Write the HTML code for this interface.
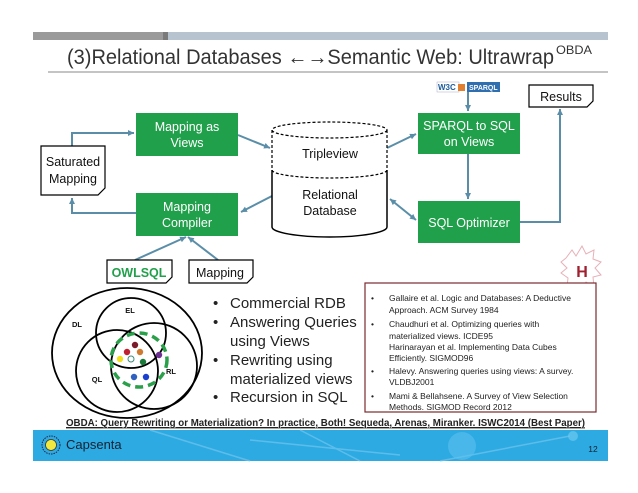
<!DOCTYPE html>
<html><head><meta charset="utf-8"><style>
html,body{margin:0;padding:0;background:#fff;}
svg{display:block;}
text{font-family:"Liberation Sans",sans-serif;}
</style></head><body>
<svg width="638" height="493" viewBox="0 0 638 493" xmlns="http://www.w3.org/2000/svg">
<defs>
<marker id="ah" markerWidth="8" markerHeight="8" refX="6" refY="3" orient="auto" markerUnits="userSpaceOnUse"><path d="M0,0 L6,3 L0,6 z" fill="#5a8ea8"/></marker>
<marker id="ahs" markerWidth="8" markerHeight="8" refX="0" refY="3" orient="auto" markerUnits="userSpaceOnUse"><path d="M6,0 L0,3 L6,6 z" fill="#5a8ea8"/></marker>
</defs>
<!-- top bar -->
<rect x="33" y="32" width="135" height="8" fill="#9a9a9a"/>
<rect x="163" y="32" width="5" height="8" fill="#7a7a7a"/>
<rect x="168" y="32" width="440" height="8" fill="#b8c3d0"/>
<text x="67" y="64" font-size="21" fill="#333" textLength="487" lengthAdjust="spacingAndGlyphs">(3)Relational Databases ←→Semantic Web: Ultrawrap</text>
<text x="556" y="54" font-size="12" fill="#333" textLength="36" lengthAdjust="spacingAndGlyphs">OBDA</text>
<line x1="48" y1="72" x2="608" y2="72" stroke="#888" stroke-width="1"/>

<!-- connectors -->
<g stroke="#5a8ea8" stroke-width="2" fill="none">
<polyline points="72,146 72,133 134,133" marker-end="url(#ah)"/>
<polyline points="136,213 72,213 72,198" marker-end="url(#ah)"/>
<line x1="238" y1="135" x2="270" y2="148" marker-end="url(#ah)"/>
<line x1="272" y1="196" x2="241" y2="212" marker-end="url(#ah)"/>
<line x1="387" y1="148" x2="416" y2="134" marker-end="url(#ah)"/>
<line x1="390" y1="199" x2="416" y2="220" marker-end="url(#ah)" marker-start="url(#ahs)"/>
<line x1="468" y1="92" x2="468" y2="111" marker-end="url(#ah)"/>
<line x1="468" y1="154" x2="468" y2="199" marker-end="url(#ah)"/>
<polyline points="520,222 560,222 560,109" marker-end="url(#ah)"/>
<line x1="135" y1="260" x2="186" y2="237" marker-end="url(#ah)"/>
<line x1="218" y1="260" x2="188" y2="237" marker-end="url(#ah)"/>
</g>

<!-- green boxes -->
<g fill="#21a04b">
<rect x="136" y="113" width="102" height="43"/>
<rect x="136" y="193" width="102" height="43"/>
<rect x="418" y="113" width="102" height="41"/>
<rect x="418" y="201" width="102" height="42"/>
</g>
<g fill="#fff" font-size="12.5" text-anchor="middle">
<text x="187" y="131">Mapping as</text><text x="187" y="147">Views</text>
<text x="187" y="211">Mapping</text><text x="187" y="227">Compiler</text>
<text x="469" y="130">SPARQL to SQL</text><text x="469" y="146">on Views</text>
<text x="469" y="227">SQL Optimizer</text>
</g>

<!-- cylinder -->
<path d="M272,130 L272,227 A57.5,10 0 0 0 387,227 L387,130" fill="#fff" stroke="none"/>
<path d="M272,130 L272,170 M387,130 L387,170" stroke="#000" stroke-width="1.2" stroke-dasharray="3,2" fill="none"/>
<path d="M272,170 L272,227 A57.5,10 0 0 0 387,227 L387,170" stroke="#000" stroke-width="1.5" fill="none"/>
<ellipse cx="329.5" cy="130" rx="57.5" ry="8" fill="#fff" stroke="#000" stroke-width="1.2" stroke-dasharray="3,2"/>
<path d="M272,170 A57.5,8 0 0 0 387,170" stroke="#000" stroke-width="1.2" stroke-dasharray="3,2" fill="none"/>
<g font-size="12.5" text-anchor="middle" fill="#111">
<text x="330" y="158">Tripleview</text>
<text x="330" y="199">Relational</text>
<text x="330" y="215">Database</text>
</g>

<!-- W3C SPARQL logo -->
<rect x="437" y="82" width="22" height="10" fill="#fff" stroke="#aac" stroke-width="0.5"/>
<text x="438" y="90" font-size="8" fill="#1a5a9a" font-weight="bold">W3C</text>
<rect x="458" y="84" width="7" height="7" fill="#e08030"/>
<rect x="467" y="82" width="33" height="10" fill="#2f6fb0"/>
<text x="469" y="90" font-size="7" fill="#fff" font-weight="bold">SPARQL</text>

<!-- documents -->
<g stroke="#000" stroke-width="1.2" fill="#fff">
<path d="M529,85 L593,85 L593,101 L587,107 L529,107 Z"/>
<path d="M41,146 L105,146 L105,188 L98,195 L41,195 Z"/>
<path d="M107,260 L172,260 L172,277 L166,283 L107,283 Z"/>
<path d="M189,260 L253,260 L253,277 L247,283 L189,283 Z"/>
</g>
<g font-size="12.5" fill="#111">
<text x="561" y="101" text-anchor="middle">Results</text>
<text x="73" y="166" text-anchor="middle">Saturated</text>
<text x="73" y="183" text-anchor="middle">Mapping</text>
<text x="139" y="277" text-anchor="middle" fill="#21a04b" font-weight="bold">OWLSQL</text>
<text x="220" y="277" text-anchor="middle">Mapping</text>
</g>

<!-- H logo -->
<path d="M566,258 L572,250 L576,256 L582,246 L586,254 L594,250 L593,259 L601,262 L595,268 L601,275 L593,277 L594,287 L586,282 L580,290 L575,283 L567,287 L568,278 L561,273 L567,268 L561,262 Z" fill="#fff" stroke="#e8b0b8" stroke-width="1"/>
<text x="582" y="277" font-size="16" font-weight="bold" fill="#a02030" text-anchor="middle">H</text>

<!-- venn -->
<g fill="none" stroke="#000" stroke-width="1.8">
<ellipse cx="127" cy="353" rx="75" ry="65"/>
<circle cx="131" cy="333" r="35"/>
<circle cx="117" cy="371" r="41"/>
<circle cx="154" cy="366" r="43"/>
</g>
<ellipse cx="139" cy="360" rx="28" ry="27" fill="none" stroke="#2aa04a" stroke-width="3.5" stroke-dasharray="8,5"/>
<g>
<circle cx="135" cy="345" r="3.2" fill="#7a1a2a"/>
<circle cx="127" cy="352" r="3.2" fill="#c02030"/>
<circle cx="140" cy="352" r="3.2" fill="#d07a30"/>
<circle cx="159" cy="355" r="3.2" fill="#6a3090"/>
<circle cx="120" cy="359" r="3.2" fill="#f0e020"/>
<circle cx="131" cy="359" r="3" fill="#fff" stroke="#3a8a7a"/>
<circle cx="143" cy="362" r="3.2" fill="#1a7a3a"/>
<circle cx="134" cy="377" r="3.2" fill="#3060c0"/>
<circle cx="146" cy="377" r="3.2" fill="#1a40d0"/>
</g>
<g font-size="7.5" font-weight="bold" fill="#111" text-anchor="middle">
<text x="77" y="327">DL</text><text x="130" y="313">EL</text>
<text x="97" y="382">QL</text><text x="171" y="374">RL</text>
</g>

<!-- bullets -->
<g font-size="15" fill="#222">
<text x="213" y="308">•</text><text x="230" y="308">Commercial RDB</text>
<text x="213" y="327">•</text><text x="230" y="327">Answering Queries</text>
<text x="230" y="346">using Views</text>
<text x="213" y="365">•</text><text x="230" y="365">Rewriting using</text>
<text x="230" y="384">materialized views</text>
<text x="213" y="402">•</text><text x="230" y="402">Recursion in SQL</text>
</g>

<!-- refs -->
<rect x="365" y="283" width="231" height="129" fill="#fff" stroke="#7a2a30" stroke-width="1.2"/>
<g font-size="8.5" fill="#222">
<text x="371" y="301">•</text><text x="389" y="301">Gallaire et al. Logic and Databases: A Deductive</text>
<text x="389" y="313">Approach. ACM Survey 1984</text>
<text x="371" y="327">•</text><text x="389" y="327">Chaudhuri et al. Optimizing queries with</text>
<text x="389" y="339">materialized views. ICDE95</text>
<text x="389" y="350">Harinarayan et al. Implementing Data Cubes</text>
<text x="389" y="361">Efficiently. SIGMOD96</text>
<text x="371" y="374">•</text><text x="389" y="374">Halevy. Answering queries using views: A survey.</text>
<text x="389" y="385">VLDBJ2001</text>
<text x="371" y="399">•</text><text x="389" y="399">Mami &amp; Bellahsene. A Survey of View Selection</text>
<text x="389" y="410">Methods. SIGMOD Record 2012</text>
</g>

<text x="66" y="426" font-size="10.5" font-weight="bold" fill="#222" textLength="519" lengthAdjust="spacingAndGlyphs" text-decoration="underline">OBDA: Query Rewriting or Materialization? In practice, Both! Sequeda, Arenas, Miranker. ISWC2014 (Best Paper)</text>
<line x1="66" y1="428" x2="585" y2="428" stroke="#222" stroke-width="0.8"/>

<!-- footer -->
<rect x="33" y="430" width="575" height="31" fill="#2eaae2"/>
<g stroke="#7ccaf0" stroke-width="1.5" opacity="0.6">
<line x1="150" y1="430" x2="250" y2="461"/><line x1="250" y1="440" x2="400" y2="455"/>
<line x1="440" y1="461" x2="570" y2="436"/><line x1="300" y1="430" x2="360" y2="461"/>
</g>
<circle cx="462" cy="446" r="14" fill="#5cc0ee" opacity="0.6"/>
<circle cx="573" cy="436" r="5" fill="#6cc8f0" opacity="0.7"/>
<circle cx="51" cy="445" r="9" fill="none" stroke="#224" stroke-width="1" stroke-dasharray="1.5,1"/>
<circle cx="51" cy="445" r="5.5" fill="#f0e840" stroke="#333" stroke-width="0.8"/>
<text x="66" y="449" font-size="13" fill="#123">Capsenta</text>
<text x="593" y="452" font-size="8.5" fill="#123" text-anchor="middle">12</text>
</svg>
</body></html>
